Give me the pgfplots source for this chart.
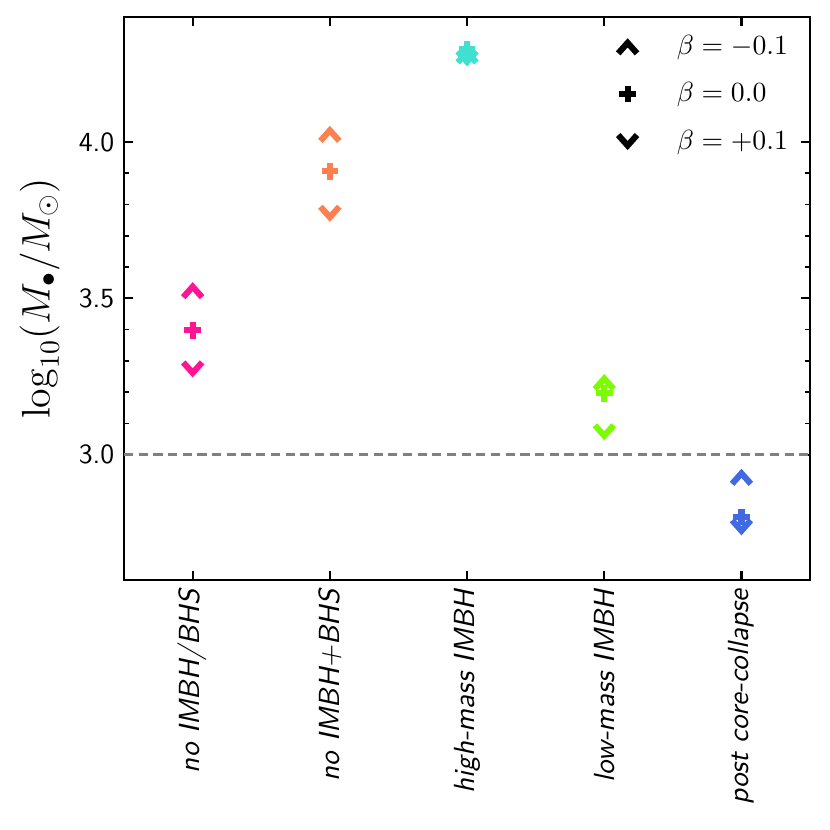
\documentclass[border=0pt]{standalone}
\usepackage{pgfplots}
\pgfplotsset{compat=1.18}
\definecolor{dpink}{RGB}{255,20,147}
\definecolor{coral}{RGB}{255,127,80}
\definecolor{turq}{RGB}{64,224,208}
\definecolor{lgreen}{RGB}{124,252,0}
\definecolor{rblue}{RGB}{65,105,225}
\definecolor{dashgray}{RGB}{128,128,128}
\pgfdeclareplotmark{chevup}{%
  \pgfsetlinewidth{2.2pt}\pgfsetmiterjoin\pgfsetbuttcap
  \pgfpathmoveto{\pgfqpoint{-3.4pt}{-2.4pt}}%
  \pgfpathlineto{\pgfqpoint{0pt}{1.4pt}}%
  \pgfpathlineto{\pgfqpoint{3.4pt}{-2.4pt}}%
  \pgfusepathqstroke}
\pgfdeclareplotmark{chevdown}{%
  \pgfsetlinewidth{2.2pt}\pgfsetmiterjoin\pgfsetbuttcap
  \pgfpathmoveto{\pgfqpoint{-3.4pt}{2.4pt}}%
  \pgfpathlineto{\pgfqpoint{0pt}{-1.4pt}}%
  \pgfpathlineto{\pgfqpoint{3.4pt}{2.4pt}}%
  \pgfusepathqstroke}
\pgfdeclareplotmark{fplus}{%
  \pgfsetlinewidth{2.2pt}\pgfsetbuttcap
  \pgfpathmoveto{\pgfqpoint{-3pt}{0pt}}\pgfpathlineto{\pgfqpoint{3pt}{0pt}}%
  \pgfpathmoveto{\pgfqpoint{0pt}{-3pt}}\pgfpathlineto{\pgfqpoint{0pt}{3pt}}%
  \pgfusepathqstroke}
\begin{document}
\begin{tikzpicture}
\begin{axis}[
  scale only axis,
  width=247.7pt, height=203.2pt,
  xmin=-0.5, xmax=4.5,
  ymin=2.6, ymax=4.4,
  xtick={0,1,2,3,4},
  xticklabels={no IMBH/BHS, no IMBH+BHS, high-mass IMBH, low-mass IMBH, post core-collapse},
  xticklabel style={rotate=90, anchor=east, font=\sffamily\itshape\fontsize{10.5}{12}\selectfont},
  ytick={3.0,3.5,4.0},
  minor y tick num=4,
  yticklabel={\pgfmathprintnumber[fixed,fixed zerofill,precision=1]{\tick}},
  /pgf/number format/assume math mode=true,
  yticklabel style={font=\sffamily},
  xtick pos=both, ytick pos=both,
  xticklabel pos=lower, yticklabel pos=left,
  tick align=inside,
  major tick length=3.2pt,
  minor tick length=1.8pt,
  every tick/.style={black, line width=0.8pt},
  minor tick style={line width=0.6pt},
  axis line style={line width=0.9pt},
  ylabel={$\log_{10}(M_\bullet/M_\odot)$},
  ylabel style={font=\Large, at={(axis description cs:-0.123,0.5)}, anchor=center},
  legend style={at={(rel axis cs:1,1)}, anchor=north east, draw=none, fill=none,
    xshift=-2.8pt, yshift=-2.3pt, row sep=4.7pt, column sep=12.4pt, font=\normalsize},
  legend cell align=left,
  scatter/classes={a={dpink}, b={coral}, c={turq}, d={lgreen}, e={rblue}},
]
\addplot[forget plot, color=dashgray, line width=1.1pt, dash pattern=on 3.3pt off 2pt]
  coordinates {(-0.5,3.0) (4.5,3.0)};
% beta = -0.1
\addplot[forget plot, scatter, only marks, mark=chevup, scatter src=explicit symbolic]
  coordinates {(0,3.525)[a] (1,4.025)[b] (2,4.276)[c] (3,3.231)[d] (4,2.928)[e]};
% beta = 0.0
\addplot[forget plot, scatter, only marks, mark=fplus, scatter src=explicit symbolic]
  coordinates {(0,3.398)[a] (1,3.906)[b] (2,4.298)[c] (3,3.196)[d] (4,2.801)[e]};
% beta = +0.1
\addplot[forget plot, scatter, only marks, mark=chevdown, scatter src=explicit symbolic]
  coordinates {(0,3.274)[a] (1,3.772)[b] (2,4.269)[c] (3,3.073)[d] (4,2.769)[e]};
\addlegendimage{only marks, mark=chevup, black}
\addlegendentry{$\beta=-0.1$}
\addlegendimage{only marks, mark=fplus, black}
\addlegendentry{$\beta=0.0$}
\addlegendimage{only marks, mark=chevdown, black}
\addlegendentry{$\beta=+0.1$}
\end{axis}
\pgfresetboundingbox
\path[use as bounding box] ([shift={(-44.8pt,-90.25pt)}]current axis.south west) rectangle ([shift={(7.2pt,6.14pt)}]current axis.north east);
\end{tikzpicture}
\end{document}
